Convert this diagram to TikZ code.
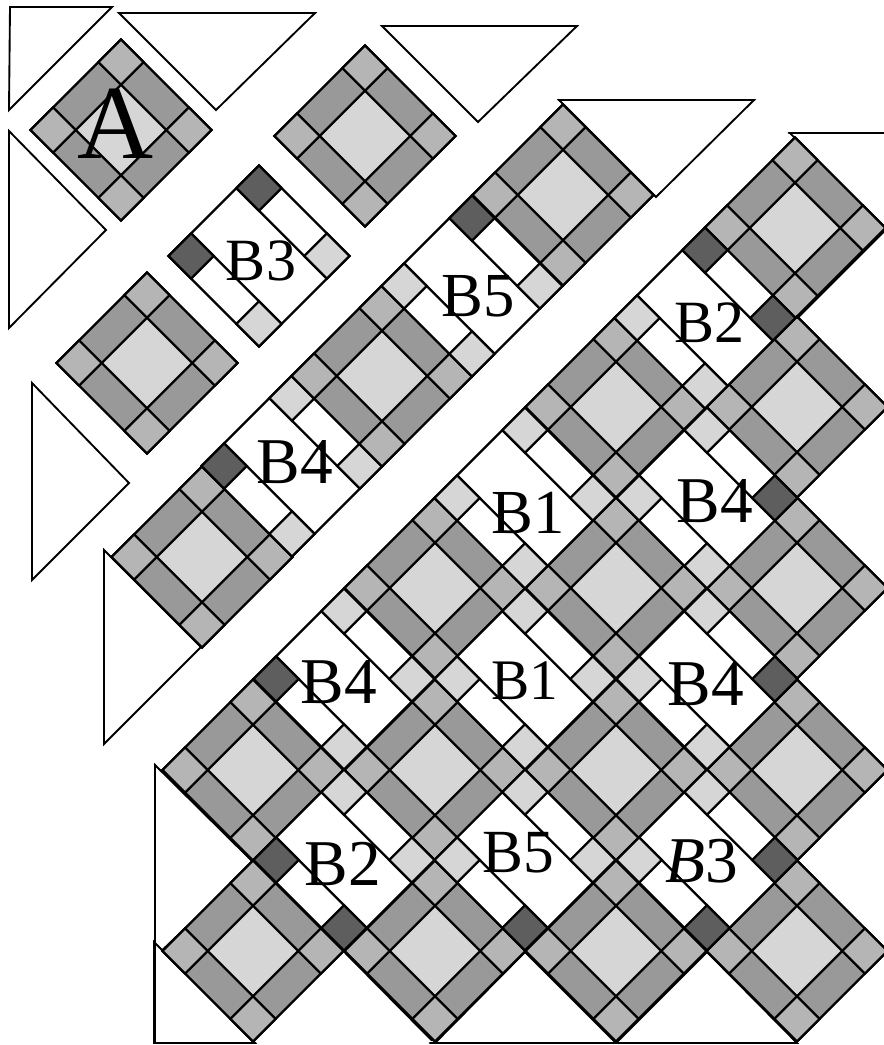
\documentclass[tikz,border=0pt]{standalone}
\usepackage{fontspec}
\setmainfont{Liberation Serif}
\definecolor{stripc}{gray}{0.60}
\definecolor{cornerc}{gray}{0.71}
\definecolor{lightc}{gray}{0.84}
\definecolor{darkc}{gray}{0.37}
\tikzset{
  qline/.style={line width=1.65pt,line join=miter,draw=black},
  tri/.style={line width=1.4pt,draw=black,fill=white},
  heavy/.style={line width=2.1pt,line cap=round},
  unitgrid/.style={rotate=-45,x=24pt,y=-24pt}
}
% grey patch at a centre: strips, four corner squares, middle square
\newcommand{\qgrey}[2]{%
  \begin{scope}[shift={(#1,#2)},unitgrid]
    \draw[qline,fill=stripc] (-2,-2) rectangle (2,2);
    \draw[qline,fill=cornerc] (-2,-2) rectangle (-1,-1);
    \draw[qline,fill=cornerc] (1,-2) rectangle (2,-1);
    \draw[qline,fill=cornerc] (-2,1) rectangle (-1,2);
    \draw[qline,fill=cornerc] (1,1) rectangle (2,2);
    \draw[qline,fill=lightc] (-1,-1) rectangle (1,1);
  \end{scope}}
% white patch: centre, then corner colours top, left, right, bottom
\newcommand{\qwhite}[6]{%
  \begin{scope}[shift={(#1,#2)},unitgrid]
    \draw[qline,fill=white] (-2,-2) rectangle (2,2);
    \draw[qline] (-2,-1) -- (2,-1);
    \draw[qline] (-2,1) -- (2,1);
    \draw[qline,fill=#3] (-2,-2) rectangle (-1,-1);
    \draw[qline,fill=#4] (-2,1) rectangle (-1,2);
    \draw[qline,fill=#5] (1,-2) rectangle (2,-1);
    \draw[qline,fill=#6] (1,1) rectangle (2,2);
  \end{scope}}
\begin{document}
\begin{tikzpicture}[x=0.75pt,y=-0.75pt]
  \useasboundingbox (0,0) rectangle (884,1045);
  \clip (0,0) rectangle (884,1045);
  % triangles along the border
  \draw[tri] (10,7) -- (112,7) -- (9,110) -- cycle;
  \draw[tri] (119,13) -- (315,13) -- (216,110) -- cycle;
  \draw[tri] (9,131) -- (106,230) -- (9,328) -- cycle;
  \draw[tri] (382,26) -- (577,26) -- (478,122) -- cycle;
  \draw[tri] (32,383) -- (129,483) -- (32,580) -- cycle;
  \draw[tri] (559,100) -- (754,100) -- (656,197) -- cycle;
  \draw[tri] (790,133) -- (984,133) -- (884,232) -- cycle;
  \draw[tri] (104,550) -- (201,647) -- (104,744) -- cycle;
  \draw[tri] (155,765) -- (254,863) -- (155,957) -- cycle;
  \draw[tri] (154,942) -- (154,1043) -- (255,1043) -- cycle;
  \draw[tri] (435,1043) -- (525,952) -- (616,1043) -- cycle;
  \draw[tri] (616,1043) -- (707,952) -- (797,1043) -- cycle;
  % heavier sides
  \draw[heavy] (119,13) -- (315,13);
  \draw[heavy] (382,26) -- (577,26);
  \draw[heavy] (559,100) -- (754,100);
  \draw[heavy] (789,133) -- (884,133);
  \draw[heavy] (155,765) -- (155,1043) -- (255,1043);
  \draw[heavy] (430,1043) -- (610,1043);
  \draw[line width=1pt] (610,1043) -- (797,1043);
  % first rows
  \qgrey{121}{130}
  \qgrey{147}{363}
  \qwhite{259}{256}{darkc}{darkc}{lightc}{lightc}
  \qgrey{365}{136}
  % second band
  \qgrey{202}{557}
  \qwhite{292}{466}{lightc}{darkc}{lightc}{lightc}
  \qgrey{382}{376}
  \qwhite{472}{286}{darkc}{lightc}{lightc}{lightc}
  \qgrey{563}{195}
  % big block, grey patches
  \qgrey{795}{228}
  \qgrey{616}{407}
  \qgrey{797}{407}
  \qgrey{435}{588}
  \qgrey{616}{588}
  \qgrey{797}{588}
  \qgrey{253}{770}
  \qgrey{435}{770}
  \qgrey{616}{770}
  \qgrey{797}{770}
  \qgrey{253}{951}
  \qgrey{435}{951}
  \qgrey{616}{951}
  \qgrey{797}{951}
  % big block, white patches
  \qwhite{705}{318}{darkc}{lightc}{darkc}{lightc}
  \qwhite{525}{498}{lightc}{lightc}{lightc}{lightc}
  \qwhite{707}{498}{lightc}{lightc}{darkc}{lightc}
  \qwhite{344}{679}{lightc}{darkc}{lightc}{lightc}
  \qwhite{525}{679}{lightc}{lightc}{lightc}{lightc}
  \qwhite{707}{679}{lightc}{lightc}{darkc}{lightc}
  \qwhite{344}{860}{lightc}{darkc}{lightc}{darkc}
  \qwhite{525}{860}{lightc}{lightc}{lightc}{darkc}
  \qwhite{707}{860}{lightc}{lightc}{darkc}{darkc}
  % heavier edges
  \draw[heavy] (884,231) -- (797,318);
  \draw[heavy] (345,952) -- (432,1040);
  % labels
  \node[anchor=base,inner sep=0pt,font=\fontsize{79}{79}\selectfont] (labA) at (116,158) {A};
  \node[anchor=base,inner sep=0pt,font=\fontsize{45}{45}\selectfont] (labBiiia) at (261,280) {B3};
  \node[anchor=base,inner sep=0pt,font=\fontsize{47}{47}\selectfont] (labBva) at (478,316) {B5};
  \node[anchor=base,inner sep=0pt,font=\fontsize{49}{49}\selectfont] (labBiva) at (295,483) {B4};
  \node[anchor=base,inner sep=0pt,font=\fontsize{45}{45}\selectfont] (labBiia) at (709,342) {B2};
  \node[anchor=base,inner sep=0pt,font=\fontsize{47}{47}\selectfont] (labBia) at (528,533) {B1};
  \node[anchor=base,inner sep=0pt,font=\fontsize{49}{49}\selectfont] (labBivb) at (715,522) {B4};
  \node[anchor=base,inner sep=0pt,font=\fontsize{49}{49}\selectfont] (labBivc) at (339,703) {B4};
  \node[anchor=base,inner sep=0pt,font=\fontsize{43}{43}\selectfont] (labBib) at (525,699) {B1};
  \node[anchor=base,inner sep=0pt,font=\fontsize{49}{49}\selectfont] (labBivd) at (706,705) {B4};
  \node[anchor=base,inner sep=0pt,font=\fontsize{49}{49}\selectfont] (labBiib) at (343,885) {B2};
  \node[anchor=base,inner sep=0pt,font=\fontsize{46}{46}\selectfont] (labBvb) at (518,872) {B5};
  \node[anchor=base,inner sep=0pt,font=\fontsize{49}{49}\selectfont] (labBiiib) at (702,882) {\textit{B}3};
\end{tikzpicture}
\end{document}
